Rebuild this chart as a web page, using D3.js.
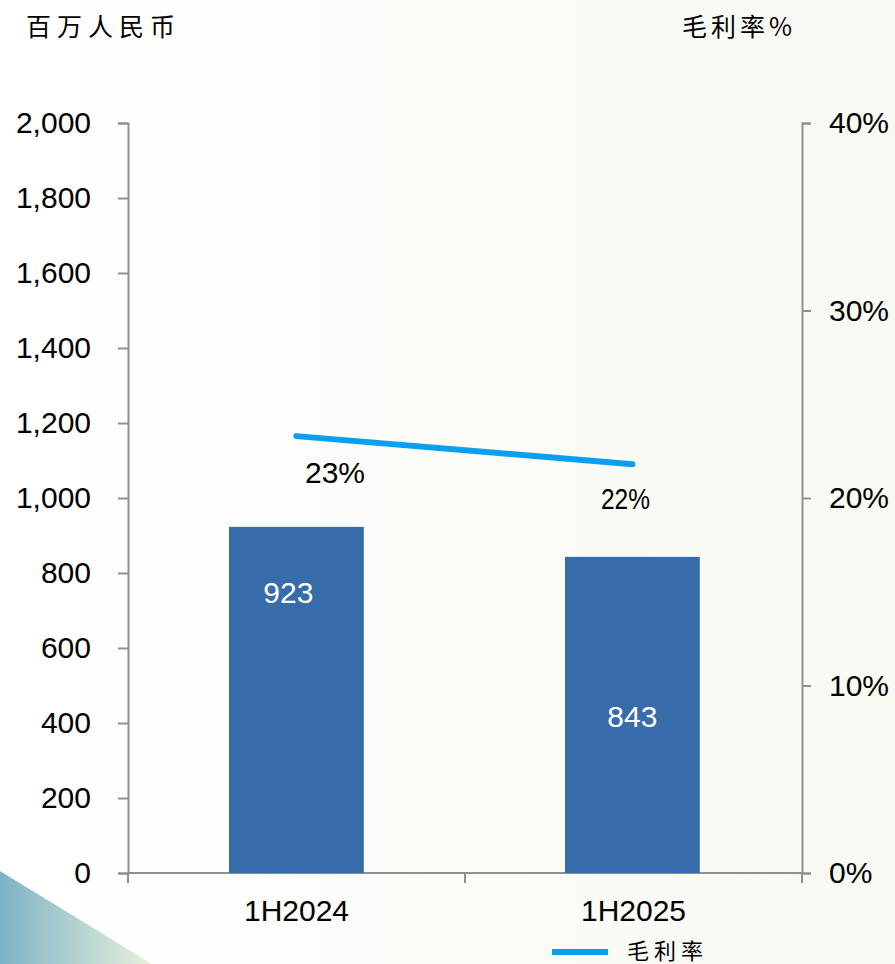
<!DOCTYPE html>
<html>
<head>
<meta charset="utf-8">
<script src="https://cdn.jsdelivr.net/npm/d3@7"></script>
<style>
  body { margin: 0; background: #fbfbf7; }
  svg { display: block; }
  text { font-family: "Liberation Sans", Arial, sans-serif; }
  .cjk { font-family: "Noto Sans CJK SC", sans-serif; }
</style>
</head>
<body>
<div id="chart"></div>
<script>
// data
const periods = ["1H2024", "1H2025"];
const revenue = [923, 843];
const grossMargin = [23.3, 21.8];
const marginLabels = ["23%", "22%"];
const leftTicks = [0, 200, 400, 600, 800, 1000, 1200, 1400, 1600, 1800, 2000];
const rightTicks = [0, 10, 20, 30, 40];

const width = 895, height = 964;
const plot = {left: 128, right: 802, top: 123, bottom: 873};

const svg = d3.select("#chart").append("svg")
  .attr("width", width)
  .attr("height", height);

// background
const defs = svg.append("defs");
const bg = defs.append("linearGradient").attr("id", "bg").attr("x1", 0).attr("x2", 1);
bg.append("stop").attr("offset", 0).attr("stop-color", "#ffffff");
bg.append("stop").attr("offset", 1).attr("stop-color", "#f8f9f2");
svg.append("rect").attr("width", width).attr("height", height).attr("fill", "url(#bg)");

const tri = defs.append("linearGradient").attr("id", "tri").attr("x1", 0).attr("x2", 1);
tri.append("stop").attr("offset", 0).attr("stop-color", "#7db3c7");
tri.append("stop").attr("offset", 1).attr("stop-color", "#e9f0dc");
svg.append("path").attr("d", "M0,871 L152,964 L0,964 Z").attr("fill", "url(#tri)");

// scales
const x = d3.scaleBand().domain(periods).range([plot.left, plot.right]).paddingInner(0).paddingOuter(0);
const yL = d3.scaleLinear().domain([0, 2000]).range([plot.bottom, plot.top]);
const yR = d3.scaleLinear().domain([0, 40]).range([plot.bottom, plot.top]);

// axes
const axisColor = "#909090";
const gL = svg.append("g").attr("transform", `translate(${plot.left},0)`)
  .call(d3.axisLeft(yL).tickValues(leftTicks).tickSize(10).tickPadding(27).tickFormat(d3.format(",")));
const gR = svg.append("g").attr("transform", `translate(${plot.right},0)`)
  .call(d3.axisRight(yR).tickValues(rightTicks).tickSize(9).tickPadding(18).tickFormat(d => d + "%"));
const gX = svg.append("g").attr("transform", `translate(0,${plot.bottom})`)
  .call(d3.axisBottom(x).tickSize(0).tickPadding(27));

[gL, gR, gX].forEach(g => {
  g.select(".domain").attr("stroke", axisColor).attr("stroke-width", 2);
  g.selectAll(".tick line").attr("stroke", axisColor).attr("stroke-width", 2);
  g.selectAll(".tick text").attr("fill", "#000").style("font-size", "30px")
    .style("font-family", "'Liberation Sans', Arial, sans-serif");
});
gX.select(".domain").attr("d", `M${plot.left},0H${plot.right}`);

// category boundary ticks on x axis
svg.append("g").selectAll("line")
  .data([plot.left, ...periods.map(p => x(p) + x.bandwidth())])
  .join("line")
  .attr("x1", d => d).attr("x2", d => d)
  .attr("y1", plot.bottom).attr("y2", plot.bottom + 10)
  .attr("stroke", axisColor).attr("stroke-width", 2);

// bars
const barW = x.bandwidth() * 0.4;
const barOff = [101, 100];
svg.append("g").selectAll("rect")
  .data(revenue)
  .join("rect")
  .attr("x", (d, i) => x(periods[i]) + barOff[i])
  .attr("width", barW)
  .attr("y", d => yL(d))
  .attr("height", d => yL(0) - yL(d))
  .attr("fill", "#376caa");

svg.append("g").selectAll("text")
  .data(revenue)
  .join("text")
  .attr("x", (d, i) => x(periods[i]) + barOff[i] + barW / 2 - (i === 0 ? 8 : 0))
  .attr("y", (d, i) => i === 0 ? 603 : 727)
  .attr("text-anchor", "middle")
  .attr("fill", "#fff")
  .style("font-size", "30px")
  .text(d => d);

// margin line
const lineX = (d, i) => x(periods[i]) + barOff[i] + barW / 2;
svg.append("path")
  .datum(grossMargin)
  .attr("d", d3.line().x(lineX).y(d => yR(d)))
  .attr("fill", "none")
  .attr("stroke", "#0aa0ef")
  .attr("stroke-width", 6)
  .attr("stroke-linecap", "round");

svg.append("g").selectAll("text")
  .data(marginLabels)
  .join("text")
  .attr("x", (d, i) => i === 0 ? 335 : 601)
  .attr("y", (d, i) => i === 0 ? 483 : 509)
  .attr("text-anchor", (d, i) => i === 0 ? "middle" : "start")
  .attr("fill", "#000")
  .style("font-size", "30px")
  .attr("textLength", (d, i) => i === 0 ? null : 49)
  .attr("lengthAdjust", "spacingAndGlyphs")
  .text(d => d);

// axis titles
svg.append("text").attr("class", "cjk").attr("x", 26).attr("y", 36)
  .style("font-size", "25px").attr("letter-spacing", "6px").attr("fill", "#000").text("百万人民币");
svg.append("text").attr("class", "cjk").attr("x", 682).attr("y", 36)
  .style("font-size", "25px").attr("letter-spacing", "4px").attr("fill", "#000").text("毛利率%");

// legend
svg.append("line").attr("x1", 552).attr("x2", 608).attr("y1", 952).attr("y2", 952)
  .attr("stroke", "#0aa0ef").attr("stroke-width", 6);
svg.append("text").attr("class", "cjk").attr("x", 627).attr("y", 959)
  .style("font-size", "22px").attr("letter-spacing", "5px").attr("fill", "#000").text("毛利率");
</script>
</body>
</html>
